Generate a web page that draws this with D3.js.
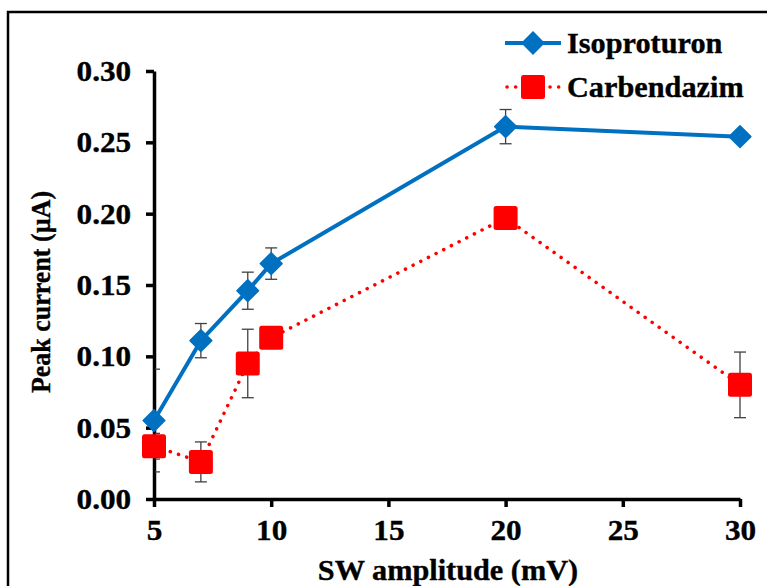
<!DOCTYPE html>
<html>
<head>
<meta charset="utf-8">
<script src="https://cdn.jsdelivr.net/npm/d3@7"></script>
<style>
  body { margin: 0; background: #fff; }
  text { font-family: "Liberation Serif", "Times New Roman", serif; font-weight: bold; fill: #000;
         stroke: #000; stroke-width: 0.35px; }
</style>
</head>
<body>
<svg id="chart" width="767" height="586"></svg>
<script>
// data
var amplitudes = [5, 7, 9, 10, 20, 30];
var isoproturon = [0.055, 0.111, 0.146, 0.165, 0.261, 0.254];
var isoproturonErr = [0.036, 0.012, 0.013, 0.011, 0.012, 0.003];
var carbendazim = [0.037, 0.026, 0.095, 0.113, 0.197, 0.080];
var carbendazimErr = [0.009, 0.014, 0.024, 0.007, 0.003, 0.023];
var xTicks = [5, 10, 15, 20, 25, 30];
var yTicks = [0, 0.05, 0.10, 0.15, 0.20, 0.25, 0.30];

var BLUE = '#0070C0', RED = '#FF0000';
var STRETCH = 1.045; // the picture is a little wider than tall
var svg = d3.select('#chart');

// outer frame (runs off the right and bottom edges)
svg.append('rect')
    .attr('x', 8).attr('y', 12)
    .attr('width', 800).attr('height', 600)
    .attr('fill', 'none').attr('stroke', '#000').attr('stroke-width', 2.5);

var x = d3.scaleLinear().domain([5, 30]).range([154, 740]);
var y = d3.scaleLinear().domain([0, 0.30]).range([499, 71]);

svg.append('defs').append('clipPath').attr('id', 'plotclip')
  .append('rect').attr('x', 155).attr('y', 40).attr('width', 600).attr('height', 459);

// axes
var xAxis = svg.append('g').attr('transform', 'translate(0,' + y(0) + ')')
    .call(d3.axisBottom(x).tickValues(xTicks).tickSize(8).tickPadding(12)
      .tickSizeOuter(0).tickFormat(d3.format('d')));
var yAxis = svg.append('g').attr('transform', 'translate(' + x(5) + ',0)')
    .call(d3.axisLeft(y).tickValues(yTicks).tickSize(8).tickPadding(14)
      .tickSizeOuter(0).tickFormat(d3.format('.2f')));

[xAxis, yAxis].forEach(function(a) {
  a.select('.domain').attr('stroke', '#000').attr('stroke-width', 3.5);
  a.selectAll('.tick line').attr('stroke', '#000').attr('stroke-width', 3.5);
  a.selectAll('.tick text').attr('font-size', 30)
    .attr('transform', 'scale(1.04,1)')
    .style('font-family', '"Liberation Serif", serif')
    .style('font-weight', 'bold');
});

// axis titles
svg.append('text')
    .attr('transform', 'translate(448,580) scale(' + STRETCH + ',1)')
    .attr('text-anchor', 'middle').attr('font-size', 29)
    .text('SW amplitude (mV)');
svg.append('text')
    .attr('transform', 'translate(50,292) rotate(-90) scale(1,1.08)')
    .attr('text-anchor', 'middle').attr('font-size', 26)
    .text('Peak current (µA)');

var plot = svg.append('g').attr('clip-path', 'url(#plotclip)');

function drawErrors(vals, errs) {
  var g = plot.append('g');
  vals.forEach(function(v, i) {
    var cx = x(amplitudes[i]), top = y(v + errs[i]), bot = y(v - errs[i]);
    g.append('line').attr('x1', cx).attr('x2', cx).attr('y1', top).attr('y2', bot)
        .attr('stroke', '#404040').attr('stroke-width', 1.3);
    [top, bot].forEach(function(yy) {
      g.append('line').attr('x1', cx - 6).attr('x2', cx + 6).attr('y1', yy).attr('y2', yy)
          .attr('stroke', '#404040').attr('stroke-width', 1.3);
    });
  });
}

var line = d3.line()
    .x(function(d, i) { return x(amplitudes[i]); })
    .y(function(d) { return y(d); });

// carbendazim (behind)
drawErrors(carbendazim, carbendazimErr);
plot.append('path').datum(carbendazim)
    .attr('d', line).attr('fill', 'none').attr('stroke', RED)
    .attr('stroke-width', 3.5).attr('stroke-linecap', 'round')
    .attr('stroke-dasharray', '0.1 8.5');
svg.append('g').selectAll('rect').data(carbendazim).enter().append('rect')
    .attr('x', function(d, i) { return x(amplitudes[i]) - 12; })
    .attr('y', function(d) { return y(d) - 12; })
    .attr('width', 24).attr('height', 24).attr('rx', 2.5)
    .attr('fill', RED);

// isoproturon
drawErrors(isoproturon, isoproturonErr);
plot.append('path').datum(isoproturon)
    .attr('d', line).attr('fill', 'none').attr('stroke', BLUE)
    .attr('stroke-width', 4);
var diamond = d3.symbol().type(d3.symbolDiamond2).size(300);
svg.append('g').selectAll('path').data(isoproturon).enter().append('path')
    .attr('d', diamond)
    .attr('transform', function(d, i) {
      return 'translate(' + x(amplitudes[i]) + ',' + y(d) + ')';
    })
    .attr('fill', BLUE).attr('stroke', BLUE).attr('stroke-width', 1.5)
    .attr('stroke-linejoin', 'round');

// legend
var legend = svg.append('g');
legend.append('line').attr('x1', 505).attr('x2', 561).attr('y1', 43).attr('y2', 43)
    .attr('stroke', BLUE).attr('stroke-width', 4);
legend.append('path').attr('d', diamond).attr('transform', 'translate(533,43)')
    .attr('fill', BLUE).attr('stroke', BLUE).attr('stroke-width', 1.5);
legend.append('text').attr('transform', 'translate(567,53) scale(' + STRETCH + ',1)')
    .attr('font-size', 29).text('Isoproturon');

legend.append('line').attr('x1', 507).attr('x2', 561).attr('y1', 87).attr('y2', 87)
    .attr('stroke', RED).attr('stroke-width', 3.5).attr('stroke-linecap', 'round')
    .attr('stroke-dasharray', '0.1 8.5');
legend.append('rect').attr('x', 521).attr('y', 75).attr('width', 24).attr('height', 24)
    .attr('rx', 2.5).attr('fill', RED);
legend.append('text').attr('transform', 'translate(567,97) scale(' + STRETCH + ',1)')
    .attr('font-size', 29).text('Carbendazim');
</script>
</body>
</html>
